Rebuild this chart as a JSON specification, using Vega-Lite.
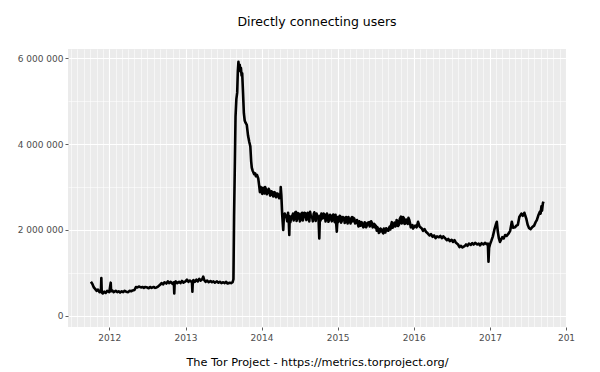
{
  "$schema": "https://vega.github.io/schema/vega-lite/v6.json",
  "width": 498,
  "height": 278,
  "autosize": {"type": "none"},
  "padding": {"left": 68, "top": 49, "right": 34, "bottom": 45},
  "background": "white",
  "title": {"text": "Directly connecting users", "anchor": "middle", "frame": "group", "font": "DejaVu Sans", "fontSize": 12.5, "fontWeight": "normal", "color": "black", "offset": 21},
  "config": {"view": {"fill": "#EBEBEB", "stroke": null}, "font": "DejaVu Sans"},
  "data": {"values": [
    {"date": "2011-10-05", "users": 790000},
    {"date": "2011-10-12", "users": 740000},
    {"date": "2011-10-19", "users": 660000},
    {"date": "2011-10-26", "users": 620000},
    {"date": "2011-11-01", "users": 580000},
    {"date": "2011-11-08", "users": 610000},
    {"date": "2011-11-15", "users": 550000},
    {"date": "2011-11-22", "users": 570000},
    {"date": "2011-11-24", "users": 880000},
    {"date": "2011-11-26", "users": 540000},
    {"date": "2011-12-01", "users": 520000},
    {"date": "2011-12-08", "users": 560000},
    {"date": "2011-12-15", "users": 530000},
    {"date": "2011-12-22", "users": 580000},
    {"date": "2012-01-01", "users": 550000},
    {"date": "2012-01-08", "users": 770000},
    {"date": "2012-01-10", "users": 570000},
    {"date": "2012-01-15", "users": 590000},
    {"date": "2012-01-22", "users": 550000},
    {"date": "2012-02-01", "users": 580000},
    {"date": "2012-02-08", "users": 550000},
    {"date": "2012-02-15", "users": 570000},
    {"date": "2012-02-22", "users": 540000},
    {"date": "2012-03-01", "users": 570000},
    {"date": "2012-03-08", "users": 550000},
    {"date": "2012-03-15", "users": 580000},
    {"date": "2012-03-22", "users": 560000},
    {"date": "2012-04-01", "users": 550000},
    {"date": "2012-04-08", "users": 580000},
    {"date": "2012-04-15", "users": 570000},
    {"date": "2012-04-22", "users": 590000},
    {"date": "2012-05-01", "users": 600000},
    {"date": "2012-05-08", "users": 670000},
    {"date": "2012-05-15", "users": 660000},
    {"date": "2012-05-22", "users": 680000},
    {"date": "2012-06-01", "users": 660000},
    {"date": "2012-06-08", "users": 670000},
    {"date": "2012-06-15", "users": 650000},
    {"date": "2012-06-22", "users": 670000},
    {"date": "2012-07-01", "users": 660000},
    {"date": "2012-07-08", "users": 640000},
    {"date": "2012-07-15", "users": 670000},
    {"date": "2012-07-22", "users": 650000},
    {"date": "2012-08-01", "users": 670000},
    {"date": "2012-08-08", "users": 650000},
    {"date": "2012-08-15", "users": 660000},
    {"date": "2012-08-22", "users": 680000},
    {"date": "2012-09-01", "users": 720000},
    {"date": "2012-09-08", "users": 760000},
    {"date": "2012-09-15", "users": 730000},
    {"date": "2012-09-22", "users": 780000},
    {"date": "2012-10-01", "users": 750000},
    {"date": "2012-10-08", "users": 800000},
    {"date": "2012-10-15", "users": 760000},
    {"date": "2012-10-22", "users": 790000},
    {"date": "2012-11-01", "users": 740000},
    {"date": "2012-11-06", "users": 780000},
    {"date": "2012-11-08", "users": 520000},
    {"date": "2012-11-10", "users": 770000},
    {"date": "2012-11-15", "users": 800000},
    {"date": "2012-11-22", "users": 760000},
    {"date": "2012-12-01", "users": 790000},
    {"date": "2012-12-08", "users": 760000},
    {"date": "2012-12-15", "users": 810000},
    {"date": "2012-12-22", "users": 770000},
    {"date": "2013-01-01", "users": 800000},
    {"date": "2013-01-08", "users": 840000},
    {"date": "2013-01-15", "users": 790000},
    {"date": "2013-01-22", "users": 820000},
    {"date": "2013-02-01", "users": 780000},
    {"date": "2013-02-03", "users": 560000},
    {"date": "2013-02-05", "users": 800000},
    {"date": "2013-02-08", "users": 830000},
    {"date": "2013-02-15", "users": 790000},
    {"date": "2013-02-22", "users": 840000},
    {"date": "2013-03-01", "users": 800000},
    {"date": "2013-03-08", "users": 860000},
    {"date": "2013-03-15", "users": 820000},
    {"date": "2013-03-22", "users": 850000},
    {"date": "2013-03-27", "users": 910000},
    {"date": "2013-04-01", "users": 830000},
    {"date": "2013-04-08", "users": 790000},
    {"date": "2013-04-15", "users": 820000},
    {"date": "2013-04-22", "users": 780000},
    {"date": "2013-05-01", "users": 810000},
    {"date": "2013-05-08", "users": 780000},
    {"date": "2013-05-15", "users": 800000},
    {"date": "2013-05-22", "users": 770000},
    {"date": "2013-06-01", "users": 800000},
    {"date": "2013-06-08", "users": 770000},
    {"date": "2013-06-15", "users": 790000},
    {"date": "2013-06-22", "users": 760000},
    {"date": "2013-07-01", "users": 780000},
    {"date": "2013-07-08", "users": 760000},
    {"date": "2013-07-15", "users": 790000},
    {"date": "2013-07-22", "users": 750000},
    {"date": "2013-08-01", "users": 770000},
    {"date": "2013-08-08", "users": 760000},
    {"date": "2013-08-15", "users": 780000},
    {"date": "2013-08-19", "users": 850000},
    {"date": "2013-08-22", "users": 2310000},
    {"date": "2013-08-26", "users": 3600000},
    {"date": "2013-08-29", "users": 4640000},
    {"date": "2013-09-02", "users": 5050000},
    {"date": "2013-09-06", "users": 5200000},
    {"date": "2013-09-09", "users": 5700000},
    {"date": "2013-09-12", "users": 5920000},
    {"date": "2013-09-15", "users": 5750000},
    {"date": "2013-09-18", "users": 5850000},
    {"date": "2013-09-21", "users": 5700000},
    {"date": "2013-09-24", "users": 5780000},
    {"date": "2013-09-27", "users": 5600000},
    {"date": "2013-09-30", "users": 5650000},
    {"date": "2013-10-04", "users": 5200000},
    {"date": "2013-10-08", "users": 4720000},
    {"date": "2013-10-12", "users": 4550000},
    {"date": "2013-10-16", "users": 4500000},
    {"date": "2013-10-22", "users": 4450000},
    {"date": "2013-10-28", "users": 4200000},
    {"date": "2013-11-03", "users": 4050000},
    {"date": "2013-11-08", "users": 3950000},
    {"date": "2013-11-12", "users": 3600000},
    {"date": "2013-11-15", "users": 3450000},
    {"date": "2013-11-19", "users": 3380000},
    {"date": "2013-11-22", "users": 3350000},
    {"date": "2013-11-26", "users": 3300000},
    {"date": "2013-12-01", "users": 3320000},
    {"date": "2013-12-05", "users": 3250000},
    {"date": "2013-12-10", "users": 3280000},
    {"date": "2013-12-16", "users": 3200000},
    {"date": "2013-12-20", "users": 3050000},
    {"date": "2013-12-24", "users": 2880000},
    {"date": "2013-12-28", "users": 3000000},
    {"date": "2014-01-01", "users": 2920000},
    {"date": "2014-01-04", "users": 2840000},
    {"date": "2014-01-08", "users": 2980000},
    {"date": "2014-01-11", "users": 2880000},
    {"date": "2014-01-15", "users": 2850000},
    {"date": "2014-01-18", "users": 3000000},
    {"date": "2014-01-22", "users": 2950000},
    {"date": "2014-01-26", "users": 2830000},
    {"date": "2014-02-01", "users": 2880000},
    {"date": "2014-02-04", "users": 2960000},
    {"date": "2014-02-08", "users": 2920000},
    {"date": "2014-02-11", "users": 2800000},
    {"date": "2014-02-15", "users": 2820000},
    {"date": "2014-02-18", "users": 2900000},
    {"date": "2014-02-22", "users": 2880000},
    {"date": "2014-02-26", "users": 2780000},
    {"date": "2014-03-01", "users": 2800000},
    {"date": "2014-03-04", "users": 2880000},
    {"date": "2014-03-08", "users": 2860000},
    {"date": "2014-03-11", "users": 2760000},
    {"date": "2014-03-15", "users": 2780000},
    {"date": "2014-03-18", "users": 2850000},
    {"date": "2014-03-22", "users": 2830000},
    {"date": "2014-03-26", "users": 2740000},
    {"date": "2014-04-01", "users": 2750000},
    {"date": "2014-04-03", "users": 3000000},
    {"date": "2014-04-06", "users": 2800000},
    {"date": "2014-04-10", "users": 2350000},
    {"date": "2014-04-15", "users": 2000000},
    {"date": "2014-04-18", "users": 2300000},
    {"date": "2014-04-22", "users": 2380000},
    {"date": "2014-05-01", "users": 2280000},
    {"date": "2014-05-04", "users": 2200000},
    {"date": "2014-05-08", "users": 2400000},
    {"date": "2014-05-11", "users": 2260000},
    {"date": "2014-05-14", "users": 1880000},
    {"date": "2014-05-16", "users": 2320000},
    {"date": "2014-05-19", "users": 2180000},
    {"date": "2014-05-22", "users": 2250000},
    {"date": "2014-05-26", "users": 2300000},
    {"date": "2014-06-01", "users": 2380000},
    {"date": "2014-06-04", "users": 2220000},
    {"date": "2014-06-08", "users": 2300000},
    {"date": "2014-06-11", "users": 2410000},
    {"date": "2014-06-15", "users": 2420000},
    {"date": "2014-06-18", "users": 2210000},
    {"date": "2014-06-22", "users": 2270000},
    {"date": "2014-06-26", "users": 2390000},
    {"date": "2014-07-01", "users": 2360000},
    {"date": "2014-07-04", "users": 2200000},
    {"date": "2014-07-08", "users": 2250000},
    {"date": "2014-07-11", "users": 2380000},
    {"date": "2014-07-15", "users": 2400000},
    {"date": "2014-07-18", "users": 2220000},
    {"date": "2014-07-22", "users": 2300000},
    {"date": "2014-07-26", "users": 2400000},
    {"date": "2014-08-01", "users": 2380000},
    {"date": "2014-08-04", "users": 2230000},
    {"date": "2014-08-08", "users": 2260000},
    {"date": "2014-08-11", "users": 2400000},
    {"date": "2014-08-15", "users": 2350000},
    {"date": "2014-08-18", "users": 2200000},
    {"date": "2014-08-22", "users": 2420000},
    {"date": "2014-08-26", "users": 2310000},
    {"date": "2014-09-01", "users": 2290000},
    {"date": "2014-09-04", "users": 2200000},
    {"date": "2014-09-08", "users": 2370000},
    {"date": "2014-09-11", "users": 2410000},
    {"date": "2014-09-15", "users": 2280000},
    {"date": "2014-09-18", "users": 2210000},
    {"date": "2014-09-22", "users": 2380000},
    {"date": "2014-09-26", "users": 2330000},
    {"date": "2014-10-01", "users": 2300000},
    {"date": "2014-10-05", "users": 1800000},
    {"date": "2014-10-08", "users": 2330000},
    {"date": "2014-10-11", "users": 2220000},
    {"date": "2014-10-15", "users": 2380000},
    {"date": "2014-10-18", "users": 2270000},
    {"date": "2014-10-22", "users": 2270000},
    {"date": "2014-10-26", "users": 2380000},
    {"date": "2014-11-01", "users": 2350000},
    {"date": "2014-11-04", "users": 2200000},
    {"date": "2014-11-08", "users": 2260000},
    {"date": "2014-11-11", "users": 2380000},
    {"date": "2014-11-15", "users": 2330000},
    {"date": "2014-11-18", "users": 2190000},
    {"date": "2014-11-22", "users": 2240000},
    {"date": "2014-11-26", "users": 2350000},
    {"date": "2014-12-01", "users": 2320000},
    {"date": "2014-12-04", "users": 2200000},
    {"date": "2014-12-08", "users": 2250000},
    {"date": "2014-12-11", "users": 2360000},
    {"date": "2014-12-15", "users": 2300000},
    {"date": "2014-12-18", "users": 2180000},
    {"date": "2014-12-22", "users": 2350000},
    {"date": "2014-12-28", "users": 1960000},
    {"date": "2015-01-01", "users": 2300000},
    {"date": "2015-01-04", "users": 2180000},
    {"date": "2015-01-08", "users": 2240000},
    {"date": "2015-01-11", "users": 2330000},
    {"date": "2015-01-15", "users": 2310000},
    {"date": "2015-01-18", "users": 2170000},
    {"date": "2015-01-22", "users": 2220000},
    {"date": "2015-01-26", "users": 2300000},
    {"date": "2015-02-01", "users": 2280000},
    {"date": "2015-02-04", "users": 2160000},
    {"date": "2015-02-08", "users": 2200000},
    {"date": "2015-02-11", "users": 2300000},
    {"date": "2015-02-15", "users": 2260000},
    {"date": "2015-02-18", "users": 2150000},
    {"date": "2015-02-22", "users": 2300000},
    {"date": "2015-02-26", "users": 2230000},
    {"date": "2015-03-01", "users": 2220000},
    {"date": "2015-03-04", "users": 2150000},
    {"date": "2015-03-08", "users": 2280000},
    {"date": "2015-03-11", "users": 2300000},
    {"date": "2015-03-15", "users": 2200000},
    {"date": "2015-03-18", "users": 2280000},
    {"date": "2015-03-22", "users": 2260000},
    {"date": "2015-03-26", "users": 2150000},
    {"date": "2015-04-01", "users": 2190000},
    {"date": "2015-04-04", "users": 2230000},
    {"date": "2015-04-08", "users": 2140000},
    {"date": "2015-04-11", "users": 2080000},
    {"date": "2015-04-15", "users": 2200000},
    {"date": "2015-04-18", "users": 2100000},
    {"date": "2015-04-22", "users": 2100000},
    {"date": "2015-04-26", "users": 2180000},
    {"date": "2015-05-01", "users": 2130000},
    {"date": "2015-05-04", "users": 2060000},
    {"date": "2015-05-08", "users": 2080000},
    {"date": "2015-05-11", "users": 2180000},
    {"date": "2015-05-15", "users": 2150000},
    {"date": "2015-05-18", "users": 2060000},
    {"date": "2015-05-22", "users": 2110000},
    {"date": "2015-05-26", "users": 2170000},
    {"date": "2015-06-01", "users": 2180000},
    {"date": "2015-06-04", "users": 2080000},
    {"date": "2015-06-08", "users": 2120000},
    {"date": "2015-06-11", "users": 2200000},
    {"date": "2015-06-15", "users": 2160000},
    {"date": "2015-06-18", "users": 2060000},
    {"date": "2015-06-22", "users": 2080000},
    {"date": "2015-06-26", "users": 2140000},
    {"date": "2015-07-01", "users": 2050000},
    {"date": "2015-07-04", "users": 2100000},
    {"date": "2015-07-08", "users": 1980000},
    {"date": "2015-07-11", "users": 2060000},
    {"date": "2015-07-15", "users": 2020000},
    {"date": "2015-07-18", "users": 1930000},
    {"date": "2015-07-22", "users": 1950000},
    {"date": "2015-07-26", "users": 2030000},
    {"date": "2015-08-01", "users": 2000000},
    {"date": "2015-08-04", "users": 1950000},
    {"date": "2015-08-08", "users": 1920000},
    {"date": "2015-08-11", "users": 2030000},
    {"date": "2015-08-15", "users": 1990000},
    {"date": "2015-08-18", "users": 1940000},
    {"date": "2015-08-22", "users": 2040000},
    {"date": "2015-08-26", "users": 1990000},
    {"date": "2015-09-01", "users": 1980000},
    {"date": "2015-09-04", "users": 2040000},
    {"date": "2015-09-08", "users": 2080000},
    {"date": "2015-09-11", "users": 2010000},
    {"date": "2015-09-15", "users": 2120000},
    {"date": "2015-09-18", "users": 2180000},
    {"date": "2015-09-22", "users": 2050000},
    {"date": "2015-09-26", "users": 2110000},
    {"date": "2015-10-01", "users": 2170000},
    {"date": "2015-10-04", "users": 2080000},
    {"date": "2015-10-08", "users": 2100000},
    {"date": "2015-10-11", "users": 2230000},
    {"date": "2015-10-15", "users": 2200000},
    {"date": "2015-10-18", "users": 2090000},
    {"date": "2015-10-22", "users": 2120000},
    {"date": "2015-10-26", "users": 2250000},
    {"date": "2015-11-01", "users": 2310000},
    {"date": "2015-11-04", "users": 2150000},
    {"date": "2015-11-08", "users": 2180000},
    {"date": "2015-11-11", "users": 2300000},
    {"date": "2015-11-15", "users": 2270000},
    {"date": "2015-11-18", "users": 2140000},
    {"date": "2015-11-22", "users": 2150000},
    {"date": "2015-11-26", "users": 2240000},
    {"date": "2015-12-01", "users": 2200000},
    {"date": "2015-12-04", "users": 2140000},
    {"date": "2015-12-07", "users": 2280000},
    {"date": "2015-12-11", "users": 2230000},
    {"date": "2015-12-15", "users": 2150000},
    {"date": "2015-12-18", "users": 2060000},
    {"date": "2015-12-22", "users": 2080000},
    {"date": "2015-12-26", "users": 2110000},
    {"date": "2015-12-29", "users": 2030000},
    {"date": "2016-01-08", "users": 2100000},
    {"date": "2016-01-15", "users": 2060000},
    {"date": "2016-01-22", "users": 2190000},
    {"date": "2016-01-29", "users": 2080000},
    {"date": "2016-02-08", "users": 2040000},
    {"date": "2016-02-15", "users": 1980000},
    {"date": "2016-02-22", "users": 2020000},
    {"date": "2016-03-01", "users": 1950000},
    {"date": "2016-03-08", "users": 1920000},
    {"date": "2016-03-17", "users": 1870000},
    {"date": "2016-03-24", "users": 1900000},
    {"date": "2016-04-01", "users": 1840000},
    {"date": "2016-04-08", "users": 1870000},
    {"date": "2016-04-15", "users": 1810000},
    {"date": "2016-04-22", "users": 1850000},
    {"date": "2016-05-01", "users": 1830000},
    {"date": "2016-05-08", "users": 1860000},
    {"date": "2016-05-15", "users": 1810000},
    {"date": "2016-05-22", "users": 1850000},
    {"date": "2016-06-01", "users": 1800000},
    {"date": "2016-06-08", "users": 1760000},
    {"date": "2016-06-15", "users": 1790000},
    {"date": "2016-06-22", "users": 1740000},
    {"date": "2016-07-01", "users": 1770000},
    {"date": "2016-07-08", "users": 1720000},
    {"date": "2016-07-15", "users": 1760000},
    {"date": "2016-07-22", "users": 1700000},
    {"date": "2016-08-01", "users": 1660000},
    {"date": "2016-08-08", "users": 1600000},
    {"date": "2016-08-15", "users": 1630000},
    {"date": "2016-08-22", "users": 1590000},
    {"date": "2016-09-01", "users": 1620000},
    {"date": "2016-09-08", "users": 1660000},
    {"date": "2016-09-15", "users": 1630000},
    {"date": "2016-09-22", "users": 1680000},
    {"date": "2016-10-01", "users": 1650000},
    {"date": "2016-10-08", "users": 1690000},
    {"date": "2016-10-15", "users": 1660000},
    {"date": "2016-10-22", "users": 1700000},
    {"date": "2016-11-01", "users": 1660000},
    {"date": "2016-11-08", "users": 1680000},
    {"date": "2016-11-15", "users": 1640000},
    {"date": "2016-11-22", "users": 1690000},
    {"date": "2016-12-01", "users": 1660000},
    {"date": "2016-12-08", "users": 1700000},
    {"date": "2016-12-15", "users": 1670000},
    {"date": "2016-12-22", "users": 1680000},
    {"date": "2016-12-25", "users": 1260000},
    {"date": "2016-12-28", "users": 1580000},
    {"date": "2017-01-01", "users": 1660000},
    {"date": "2017-01-08", "users": 1750000},
    {"date": "2017-01-15", "users": 1850000},
    {"date": "2017-01-22", "users": 2000000},
    {"date": "2017-01-29", "users": 2120000},
    {"date": "2017-02-03", "users": 2190000},
    {"date": "2017-02-08", "users": 1950000},
    {"date": "2017-02-13", "users": 1800000},
    {"date": "2017-02-18", "users": 1720000},
    {"date": "2017-02-24", "users": 1780000},
    {"date": "2017-03-01", "users": 1830000},
    {"date": "2017-03-08", "users": 1800000},
    {"date": "2017-03-15", "users": 1880000},
    {"date": "2017-03-22", "users": 1860000},
    {"date": "2017-04-01", "users": 1920000},
    {"date": "2017-04-08", "users": 1980000},
    {"date": "2017-04-16", "users": 2190000},
    {"date": "2017-04-22", "users": 2050000},
    {"date": "2017-05-01", "users": 2060000},
    {"date": "2017-05-08", "users": 2100000},
    {"date": "2017-05-15", "users": 2120000},
    {"date": "2017-05-22", "users": 2300000},
    {"date": "2017-06-01", "users": 2380000},
    {"date": "2017-06-08", "users": 2330000},
    {"date": "2017-06-15", "users": 2400000},
    {"date": "2017-06-24", "users": 2270000},
    {"date": "2017-07-01", "users": 2120000},
    {"date": "2017-07-08", "users": 2040000},
    {"date": "2017-07-15", "users": 2020000},
    {"date": "2017-07-22", "users": 2060000},
    {"date": "2017-08-01", "users": 2100000},
    {"date": "2017-08-08", "users": 2180000},
    {"date": "2017-08-14", "users": 2230000},
    {"date": "2017-08-22", "users": 2350000},
    {"date": "2017-08-28", "users": 2420000},
    {"date": "2017-09-01", "users": 2380000},
    {"date": "2017-09-05", "users": 2550000},
    {"date": "2017-09-08", "users": 2450000},
    {"date": "2017-09-12", "users": 2620000},
    {"date": "2017-09-15", "users": 2660000}
  ]},
  "layer": [
    {
      "mark": {"type": "line", "opacity": 0},
      "encoding": {
        "x": {"field": "date", "type": "temporal",
          "scale": {"type": "utc", "domain": [{"year": 2011, "month": 6, "date": 17, "utc": true}, {"year": 2018, "month": 1, "date": 1, "utc": true}]},
          "axis": {"orient": "bottom", "tickCount": {"interval": "month", "step": 1}, "grid": true, "gridColor": "white", "gridWidth": 0.55, "labels": false, "ticks": false, "domain": false, "title": null}},
        "y": {"field": "users", "type": "quantitative",
          "scale": {"domain": [-263000, 6217000], "nice": false, "zero": false},
          "axis": {"orient": "left", "values": [1000000, 3000000, 5000000], "grid": true, "gridColor": "white", "gridWidth": 0.55, "labels": false, "ticks": false, "domain": false, "title": null}}
      }
    },
    {
      "mark": {"type": "line", "color": "black", "strokeWidth": 2.6, "strokeJoin": "round"},
      "encoding": {
        "x": {"field": "date", "type": "temporal",
          "scale": {"type": "utc", "domain": [{"year": 2011, "month": 6, "date": 17, "utc": true}, {"year": 2018, "month": 1, "date": 1, "utc": true}]},
          "axis": {"orient": "bottom",
            "values": [{"year": 2012, "utc": true}, {"year": 2013, "utc": true}, {"year": 2014, "utc": true}, {"year": 2015, "utc": true}, {"year": 2016, "utc": true}, {"year": 2017, "utc": true}, {"year": 2018, "utc": true}],
            "format": "%Y", "labelExpr": "datum.label == '2018' ? '201' : datum.label",
            "grid": true, "gridColor": "white", "gridWidth": 1.1,
            "ticks": true, "tickSize": 3, "tickColor": "#333333", "tickWidth": 0.8,
            "labelColor": "#4D4D4D", "labelFontSize": 9, "labelFont": "DejaVu Sans", "labelPadding": 3, "labelFlush": false, "labelOverlap": false,
            "domain": false,
            "title": "The Tor Project - https://metrics.torproject.org/",
            "titleFont": "DejaVu Sans", "titleFontSize": 11.3, "titleFontWeight": "normal", "titleColor": "black", "titlePadding": 14}},
        "y": {"field": "users", "type": "quantitative",
          "scale": {"domain": [-263000, 6217000], "nice": false, "zero": false},
          "axis": {"orient": "left", "values": [0, 2000000, 4000000, 6000000],
            "labelExpr": "replace(format(datum.value, ','), regexp(',', 'g'), ' ')",
            "grid": true, "gridColor": "white", "gridWidth": 1.1,
            "ticks": true, "tickSize": 3, "tickColor": "#333333", "tickWidth": 0.8,
            "labelColor": "#4D4D4D", "labelFontSize": 9, "labelFont": "DejaVu Sans", "labelPadding": 2,
            "domain": false, "title": null}}
      }
    }
  ],
  "resolve": {"axis": {"x": "independent", "y": "independent"}}
}
